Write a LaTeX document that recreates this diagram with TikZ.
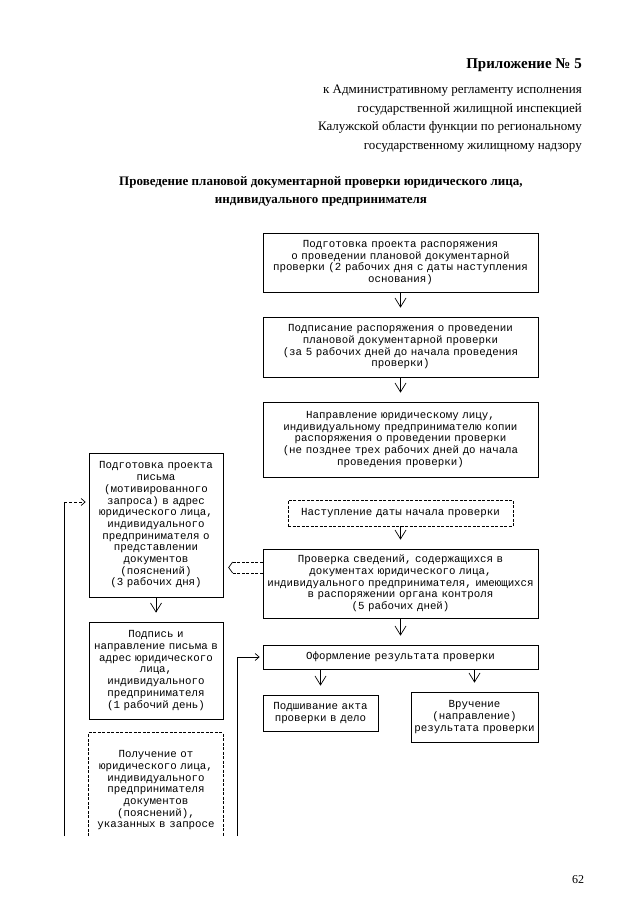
\documentclass[tikz,border=0pt]{standalone}
\usepackage{fontspec}
\setmainfont{Liberation Serif}
\newfontfamily\boxfont{Liberation Mono}
\usetikzlibrary{arrows.meta}

\begin{document}
\begin{tikzpicture}[x=1pt, y=-1pt,
    btext/.style={align=center, inner sep=1pt, font=\boxfont\fontsize{10.8}{11.7}\selectfont},
    box/.style={btext, draw, line width=0.7pt},
    dbox/.style={box, dash pattern=on 3pt off 1.5pt},
    flow/.style={line width=0.7pt, -{Straight Barb[length=9pt, width=11pt]}, shorten >=9pt},
    feed/.style={line width=0.7pt, -{Straight Barb[length=4pt, width=7pt]}, shorten >=3pt}]
    % Page frame
    \useasboundingbox (0,0) rectangle (639,905);

    % Heading
    \node[font=\bfseries\fontsize{15}{18}\selectfont, anchor=east, inner sep=0pt] (annex) at (582,65) {Приложение № 5};
    \node[font=\fontsize{13}{18.5}\selectfont, align=right, anchor=north east, inner sep=0pt] (reg) at (582,85)
        {к Административному регламенту исполнения\\государственной жилищной инспекцией\\Калужской области функции по региональному\\государственному жилищному надзору};
    \node[font=\bfseries\fontsize{13}{18}\selectfont, align=center, anchor=north, inner sep=0pt] (title) at (321,176)
        {Проведение плановой документарной проверки юридического лица,\\индивидуального предпринимателя};

    % Main column
    \node[box, text width=273pt, minimum height=59pt] (prep) at (400.5,262.5)
        {Подготовка проекта распоряжения\\о проведении плановой документарной\\проверки (2 рабочих дня с даты наступления\\основания)};
    \node[box, text width=273pt, minimum height=60pt] (sign) at (400.5,347)
        {Подписание распоряжения о проведении\\плановой документарной проверки\\(за 5 рабочих дней до начала проведения\\проверки)};
    \node[box, text width=273pt, minimum height=75pt] (send) at (400.5,439.5)
        {Направление юридическому лицу,\\индивидуальному предпринимателю копии\\распоряжения о проведении проверки\\(не позднее трех рабочих дней до начала\\проведения проверки)};
    \node[dbox, text width=223pt, minimum height=26pt] (start) at (400.5,513)
        {Наступление даты начала проверки};
    \node[box, text width=273pt, minimum height=69pt] (check) at (400.5,583.5)
        {Проверка сведений, содержащихся в\\документах юридического лица,\\индивидуального предпринимателя, имеющихся\\в распоряжении органа контроля\\(5 рабочих дней)};
    \node[box, text width=273pt, minimum height=24pt] (result) at (400.5,657)
        {Оформление результата проверки};
    \node[box, text width=113pt, minimum height=36pt] (sew) at (320.5,713)
        {Подшивание акта\\проверки в дело};
    \node[box, text width=125pt, minimum height=50pt] (hand) at (474.5,717)
        {Вручение\\(направление)\\результата проверки};

    % Request column
    \node[box, text width=132pt, minimum height=144pt] (letter) at (156,525)
        {Подготовка проекта\\письма\\(мотивированного\\запроса) в адрес\\юридического лица,\\индивидуального\\предпринимателя о\\представлении\\документов\\(пояснений)\\(3 рабочих дня)};
    \node[box, text width=132pt, minimum height=97pt] (signl) at (156,670.5)
        {Подпись и\\направление письма в\\адрес юридического\\лица,\\индивидуального\\предпринимателя\\(1 рабочий день)};
    \node[btext, text width=132pt, minimum height=103pt] (recv) at (156,784.5)
        {\rule{0pt}{19pt}Получение от\\юридического лица,\\индивидуального\\предпринимателя\\документов\\(пояснений),\\указанных в запросе};
    \draw[line width=0.7pt, dash pattern=on 3pt off 1.5pt] (recv.south west) |- (recv.north east) -- (recv.south east);

    % Arrows
    \draw[flow] (prep) -- (sign);
    \draw[flow] (sign) -- (send);
    \draw[flow] (start) -- (check);
    \draw[flow] (check) -- (result);
    \draw[flow] (sew.north |- result.south) -- (sew);
    \draw[flow] (hand.north |- result.south) -- (hand);
    \draw[flow] (letter) -- (signl);

    % Request link
    \draw[line width=0.7pt, dash pattern=on 3pt off 1.5pt] ([yshift=21.5pt]check.west) -- ++(-30,0) coordinate (ua);
    \draw[line width=0.7pt, dash pattern=on 3pt off 1.5pt] ([yshift=10.5pt]check.west) -- ++(-30,0) coordinate (la);
    \draw[line width=0.7pt] (ua) -- ++(-4,5.5) -- (la);

    % Feedback lines
    \coordinate (lbot) at (64,836);
    \coordinate (ltop) at (64,502);
    \coordinate (rbot) at (237,836);
    \draw[line width=0.7pt] (lbot) -- (ltop);
    \draw[feed, dash pattern=on 3pt off 2pt] (ltop) -- (ltop -| letter.west);
    \draw[feed] (rbot) |- (result.west);

    % Page number
    \node[font=\fontsize{12}{14}\selectfont] (page) at (578,880) {62};
\end{tikzpicture}
\end{document}
